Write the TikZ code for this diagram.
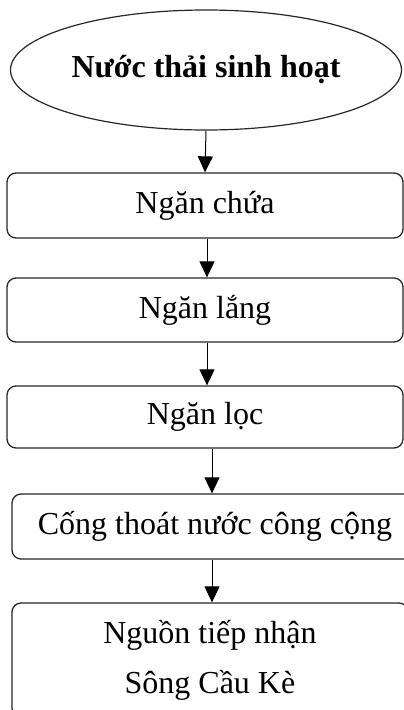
\documentclass[tikz,border=0pt]{standalone}
\usepackage{fontspec}
\setmainfont{Liberation Serif}
\usetikzlibrary{shapes.geometric,arrows.meta}
\begin{document}
\begin{tikzpicture}[x=1pt,y=-1pt,
  box/.style={draw=black!85, line width=1.3pt, rounded corners=9pt, inner sep=0pt,
    align=center, font=\fontsize{32}{50}\selectfont},
  startnode/.style={ellipse, draw=black!85, line width=1.2pt, inner sep=0pt,
    font=\bfseries\fontsize{32}{40}\selectfont},
  flow/.style={draw=black, line width=1pt, -{Triangle[width=15pt,length=16pt]}}]
\clip (0,0) rectangle (404,710);
\node[startnode, minimum width=391pt, minimum height=120pt] (src) at (206,70) {Nước thải sinh hoạt};
\node[box, minimum width=396pt, minimum height=65pt] (b1) at (205,205.5) {Ngăn chứa};
\node[box, minimum width=396pt, minimum height=64pt] (b2) at (205,310) {Ngăn lắng};
\node[box, minimum width=396pt, minimum height=62pt] (b3) at (205,417) {Ngăn lọc};
\node[box, minimum width=406pt, minimum height=65pt] (b4) at (215,526.5) {Cống thoát nước công cộng};
\node[box, minimum width=396pt, minimum height=114pt] (b5) at (210,660) {Nguồn tiếp nhận\\Sông Cầu Kè};
\draw[flow] (src.south) -- (b1.north);
\draw[flow] ([xshift=2pt]b1.south) -- ([xshift=2pt]b2.north);
\draw[flow] ([xshift=2pt]b2.south) -- ([xshift=2pt]b3.north);
\draw[flow] ([xshift=7pt]b3.south) -- ([xshift=-3pt]b4.north);
\draw[flow] ([xshift=-3pt]b4.south) -- ([xshift=2pt]b5.north);
\end{tikzpicture}
\end{document}
